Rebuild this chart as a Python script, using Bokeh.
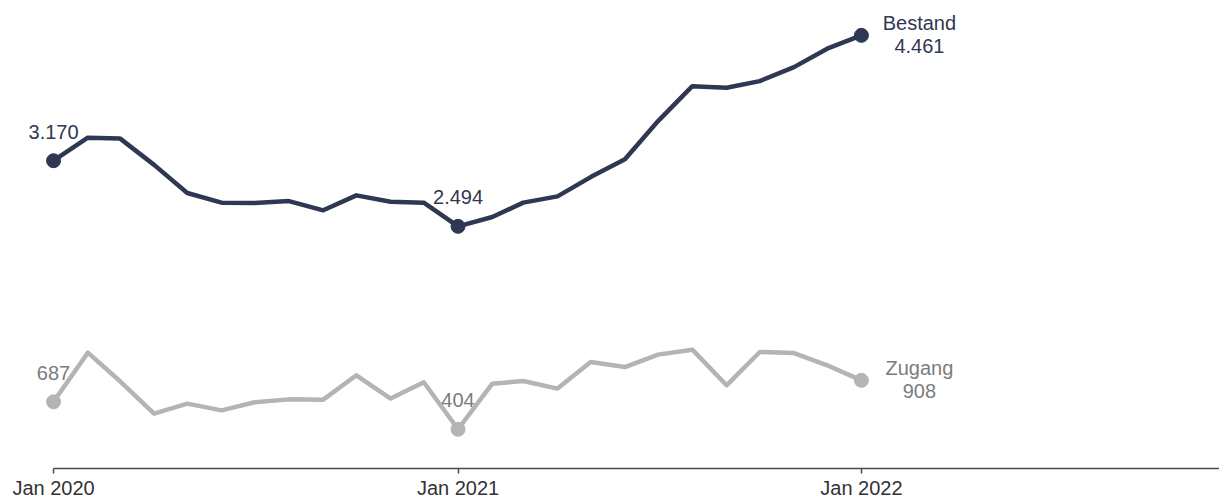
import pandas as pd
from bokeh.plotting import figure
from bokeh.models import Range1d, FixedTicker, DatetimeTickFormatter
from bokeh.core.properties import value
from bokeh.embed import file_html
from bokeh.resources import INLINE

# ---- data ----
months = list(pd.date_range("2020-01-01", "2022-01-01", freq="MS"))
bestand = [3170, 3407, 3400, 3127, 2837, 2738, 2734, 2754, 2659, 2813, 2748, 2738,
           2494, 2590, 2738, 2803, 3001, 3184, 3578, 3938, 3922, 3990, 4134, 4324, 4461]
zugang = [687, 1193, 901, 565, 668, 599, 682, 712, 709, 960, 720, 888,
          404, 874, 901, 823, 1097, 1045, 1173, 1224, 857, 1200, 1189, 1063, 908]
series_names = ["Bestand", "Zugang"]
tick_dates = ["2020-01-01", "2021-01-01", "2022-01-01"]
tick_labels = ["Jan 2020", "Jan 2021", "Jan 2022"]
highlight_idx = [0, 12, 24]

NAVY = "#2f3852"
GRAY_LINE = "#b4b4b4"
GRAY_TEXT = "#7c7c7c"
FONT = value("Liberation Sans")
FS = "20px"


def fmt(v):
    return f"{v:,}".replace(",", ".")


x0 = pd.Timestamp("2020-01-01") - pd.Timedelta(days=48)
x1 = pd.Timestamp("2022-01-01") + pd.Timedelta(days=324)

p = figure(width=1219, height=501, x_axis_type="datetime",
           x_range=Range1d(x0, x1), y_range=Range1d(0, 4820),
           output_backend="svg", toolbar_location=None, y_axis_location=None,
           min_border_left=0, min_border_right=0, min_border_top=0, min_border_bottom=33)
p.outline_line_color = None
p.grid.visible = False
p.background_fill_color = "white"
p.border_fill_color = "white"

tick_ms = [pd.Timestamp(d).value // 10**6 for d in tick_dates]
ax = p.xaxis[0]
ax.ticker = FixedTicker(ticks=tick_ms)
ax.formatter = DatetimeTickFormatter(days="%b %Y", months="%b %Y", years="%b %Y")
ax.major_label_overrides = {int(t): lab for t, lab in zip(tick_ms, tick_labels)}
ax.bounds = (tick_ms[0], pd.Timestamp(x1).value // 10**6)
ax.axis_line_color = "#4a4a4a"
ax.axis_line_width = 1.5
ax.major_tick_line_color = "#4a4a4a"
ax.major_tick_line_width = 1.5
ax.major_tick_out = 5
ax.major_tick_in = 0
ax.minor_tick_line_color = None
ax.major_label_text_font = "Liberation Sans"
ax.major_label_text_font_size = FS
ax.major_label_text_color = "#333333"
ax.major_label_standoff = 3

# lines
p.line(months, zugang, line_width=4.5, color=GRAY_LINE, line_join="round")
p.line(months, bestand, line_width=4.5, color=NAVY, line_join="round")

hx = [months[i] for i in highlight_idx]
hb = [bestand[i] for i in highlight_idx]
hz = [zugang[i] for i in highlight_idx]
p.scatter(hx, hz, size=14, color=GRAY_LINE)
p.scatter(hx, hb, size=14, color=NAVY)

# value labels above first and middle points
p.text(x=hx[:2], y=hb[:2], text=[fmt(v) for v in hb[:2]], text_align="center",
       text_baseline="middle", y_offset=-29, text_font=FONT, text_font_size=FS,
       text_color=NAVY)
p.text(x=hx[:2], y=hz[:2], text=[fmt(v) for v in hz[:2]], text_align="center",
       text_baseline="middle", y_offset=-29, text_font=FONT, text_font_size=FS,
       text_color=GRAY_TEXT)

# end labels
for vals, name, col in [(bestand, series_names[0], NAVY), (zugang, series_names[1], GRAY_TEXT)]:
    p.text(x=[months[-1]], y=[vals[-1]], text=[name], text_align="center",
           text_baseline="middle", x_offset=58, y_offset=-12, text_font=FONT,
           text_font_size=FS, text_color=col)
    p.text(x=[months[-1]], y=[vals[-1]], text=[fmt(vals[-1])], text_align="center",
           text_baseline="middle", x_offset=58, y_offset=11, text_font=FONT,
           text_font_size=FS, text_color=col)

open("out.html", "w").write(file_html(p, INLINE))
